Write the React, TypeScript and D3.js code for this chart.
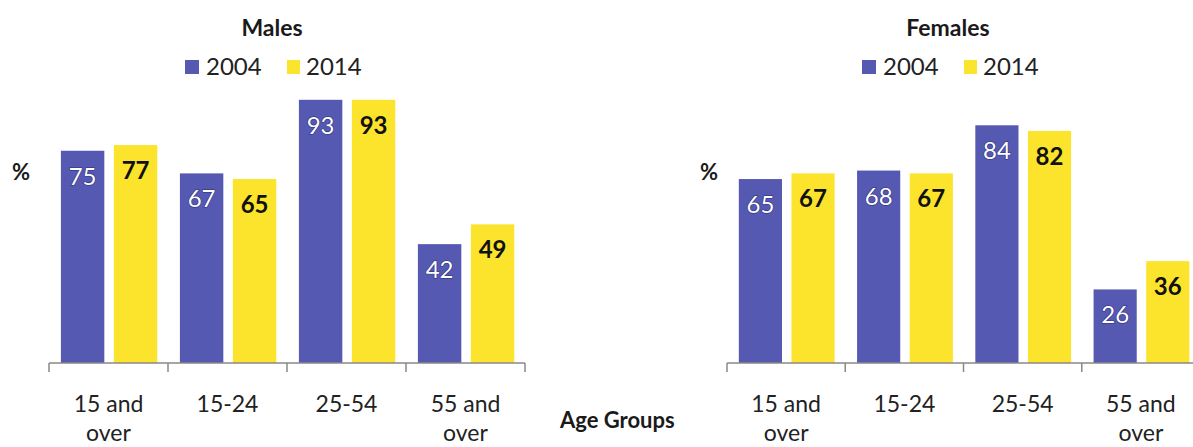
import React from "react";
import * as d3 from "d3";

const categories = ["15 and over", "15-24", "25-54", "55 and over"];
const categoryLines = [["15 and", "over"], ["15-24"], ["25-54"], ["55 and", "over"]];
const series = ["2004", "2014"];
const males2004 = [75, 67, 93, 42];
const males2014 = [77, 65, 93, 49];
const females2004 = [65, 68, 84, 26];
const females2014 = [67, 67, 82, 36];

const W = 1193;
const H = 447;
const BLUE = "#5659b2";
const YELLOW = "#fde42c";
const FONT = "Lato, 'Open Sans', sans-serif";

type PanelProps = {
  title: string;
  x0: number;
  x1: number;
  titleX: number;
  legendX: number;
  pctX: number;
  v2004: number[];
  v2014: number[];
};

const y = d3.scaleLinear().domain([0, 100]).range([363, 80]);

function Panel({ title, x0, x1, titleX, legendX, pctX, v2004, v2014 }: PanelProps) {
  const xb = d3.scaleBand<string>().domain(categories).range([x0, x1]).padding(0);
  const bw = xb.bandwidth();
  const xs = d3
    .scaleBand<string>()
    .domain(series)
    .range([bw * 0.1, bw * 0.91])
    .paddingInner(0.18)
    .paddingOuter(0);
  const vals: Record<string, number[]> = { "2004": v2004, "2014": v2014 };
  const ticks = [...categories.map((c) => xb(c) as number), x1];
  const base = y(0);
  return (
    <g>
      <text x={titleX} y={36} textAnchor="middle" fontFamily={FONT} fontWeight="bold" fontSize={23} fill="#1a1a1a">
        {title}
      </text>
      <rect x={legendX} y={60} width={14} height={14} fill={BLUE} />
      <text x={legendX + 21} y={75} fontFamily={FONT} fontSize={24} fill="#222">2004</text>
      <rect x={legendX + 102} y={60} width={13} height={14} fill={YELLOW} />
      <text x={legendX + 121} y={75} fontFamily={FONT} fontSize={24} fill="#222">2014</text>
      <text x={pctX} y={180} fontFamily={FONT} fontWeight="bold" fontSize={22} fill="#1a1a1a">%</text>
      {categories.map((c, i) =>
        series.map((s) => {
          const v = vals[s][i];
          const bx = (xb(c) as number) + (xs(s) as number);
          const top = y(v);
          const cx = bx + xs.bandwidth() / 2;
          return (
            <g key={c + s}>
              <rect x={bx} y={top} width={xs.bandwidth()} height={base - top} fill={s === "2004" ? BLUE : YELLOW} />
              <text
                x={cx}
                y={top + 34}
                textAnchor="middle"
                fontFamily={FONT}
                fontSize={24}
                fontWeight={s === "2004" ? "normal" : "bold"}
                fill={s === "2004" ? "#ffffff" : "#111"}
                stroke={s === "2004" ? "#2c2f78" : "none"}
                strokeWidth={s === "2004" ? 1.2 : 0}
                paintOrder="stroke"
              >
                {v}
              </text>
            </g>
          );
        })
      )}
      <line x1={x0} x2={x1} y1={base} y2={base} stroke="#888" strokeWidth={1.5} />
      {ticks.map((t, i) => (
        <line key={i} x1={t} x2={t} y1={base} y2={base + 9} stroke="#888" strokeWidth={1.5} />
      ))}
      {categories.map((c, i) => {
        const cx = (xb(c) as number) + bw / 2;
        return (
          <text key={c} textAnchor="middle" fontFamily={FONT} fontSize={23} fill="#222">
            {categoryLines[i].map((ln, j) => (
              <tspan key={j} x={cx} y={412 + j * 29}>
                {ln}
              </tspan>
            ))}
          </text>
        );
      })}
    </g>
  );
}

export default function App() {
  return (
    <svg
      width={W}
      height={H}
      viewBox={`0 0 ${W} ${H}`}
      style={{ position: "absolute", left: 0, top: 0, background: "#fff", overflow: "hidden" }}
    >
      <rect x={0} y={0} width={W} height={H} fill="#fff" />
      <Panel
        title="Males"
        x0={49}
        x1={525}
        titleX={272}
        legendX={185}
        pctX={12}
        v2004={males2004}
        v2014={males2014}
      />
      <Panel
        title="Females"
        x0={727}
        x1={1200}
        titleX={948}
        legendX={862}
        pctX={700}
        v2004={females2004}
        v2014={females2014}
      />
      <text x={560} y={428} fontFamily={FONT} fontWeight="bold" fontSize={22} fill="#1a1a1a">
        Age Groups
      </text>
    </svg>
  );
}
